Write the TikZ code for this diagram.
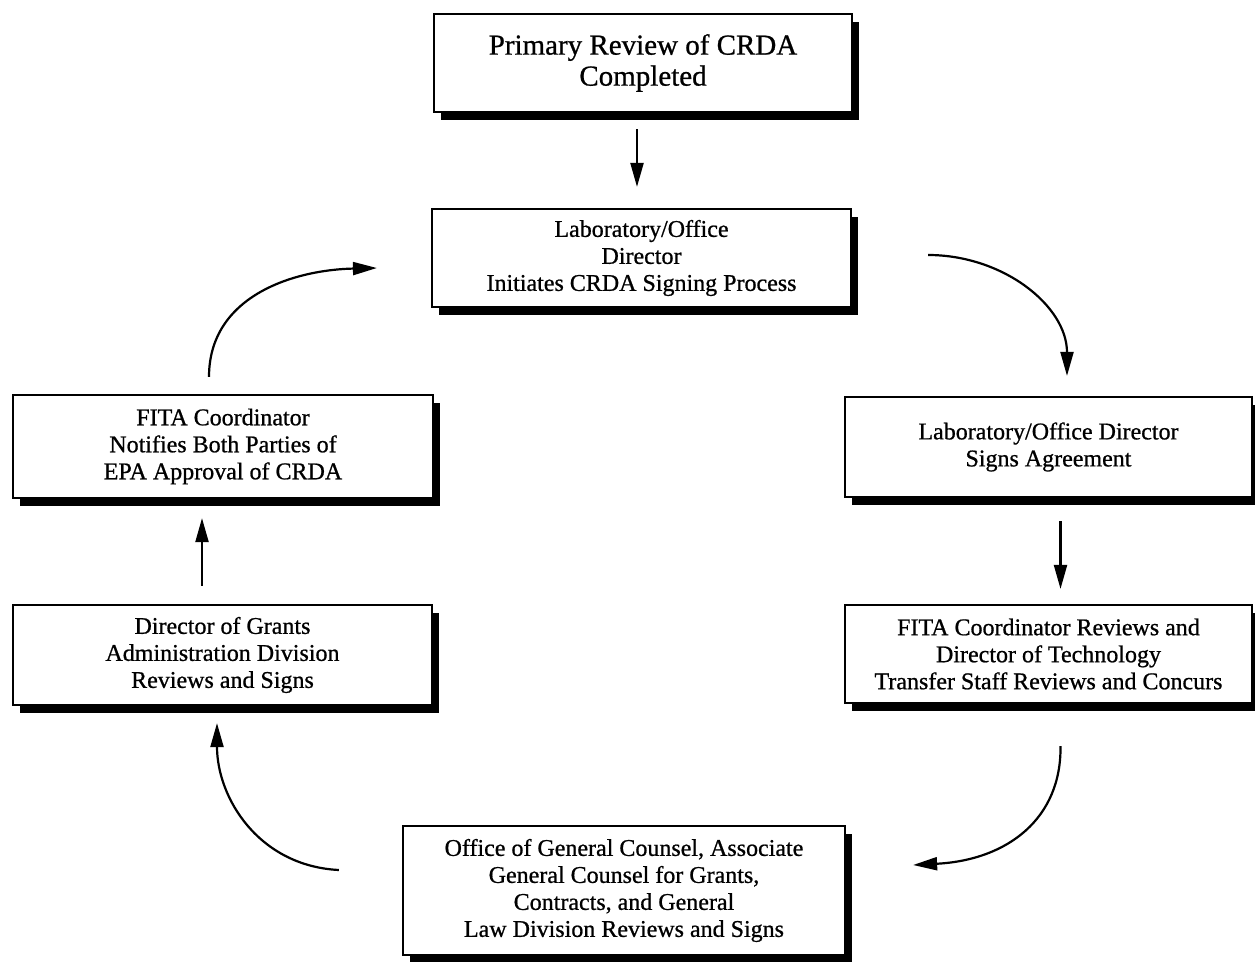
\documentclass[tikz,border=0pt]{standalone}
\usepackage{fontspec}
\setmainfont{Liberation Serif}
\newfontfamily\boxfont{Liberation Serif}[FakeBold=0.8]
\usetikzlibrary{arrows.meta,shadows,calc}

\tikzset{
  stepbox/.style={draw=black, line width=2.2pt, fill=white, rectangle,
    inner sep=0pt, align=center,
    drop shadow={shadow xshift=7pt, shadow yshift=-8pt, fill=black, opacity=1},
    font=\boxfont\fontsize{24}{27}\selectfont},
  bigbox/.style={stepbox, font=\boxfont\fontsize{29}{31}\selectfont},
  flow/.style={line width=2.2pt, -{Triangle[length=24pt,width=13pt]}},
}

\begin{document}
\begin{tikzpicture}[x=1pt,y=-1pt]
  \useasboundingbox (0,0) rectangle (1255,961);

  % process steps
  \node[bigbox, minimum width=418pt, minimum height=98pt] (prim) at (643,63)
    {Primary Review of CRDA\\Completed};
  \node[stepbox, minimum width=419pt, minimum height=98pt] (init) at (641.5,258)
    {Laboratory/Office\\Director\\Initiates CRDA Signing Process};
  \node[stepbox, minimum width=407pt, minimum height=100pt] (signs) at (1048.5,447)
    {Laboratory/Office Director\\Signs Agreement};
  \node[stepbox, minimum width=407pt, minimum height=98pt] (fita) at (1048.5,654)
    {FITA Coordinator Reviews and\\Director of Technology\\Transfer Staff Reviews and Concurs};
  \node[stepbox, minimum width=442pt, minimum height=129pt] (ogc) at (624,890.5)
    {Office of General Counsel, Associate\\General Counsel for Grants,\\Contracts, and General\\Law Division Reviews and Signs};
  \node[stepbox, minimum width=419pt, minimum height=100pt] (grants) at (222.5,655)
    {Director of Grants\\Administration Division\\Reviews and Signs};
  \node[stepbox, minimum width=420pt, minimum height=103pt] (notif) at (223,446.5)
    {FITA Coordinator\\Notifies Both Parties of\\EPA Approval of CRDA};

  % connector end points, placed in the gaps between the steps
  \coordinate (a1) at ($(prim.south)+(-6,16)$);
  \coordinate (b1) at ($(init.north)+(-4.5,-21)$);
  \coordinate (a2) at ($(init.east)+(76,-3)$);
  \coordinate (b2) at ($(signs.north)+(18.5,-20)$);
  \coordinate (a3) at ($(signs.south)+(12,23)$);
  \coordinate (b3) at ($(fita.north)+(12,-15)$);
  \coordinate (a4) at ($(fita.south)+(12,42)$);
  \coordinate (b4) at ($(ogc.east)+(67,-25.5)$);
  \coordinate (a5) at ($(ogc.west)+(-63,-20.5)$);
  \coordinate (b5) at ($(grants.south)+(-5.5,17)$);
  \coordinate (a6) at ($(grants.north)+(-20.5,-18)$);
  \coordinate (b6) at ($(notif.south)+(-21,19)$);
  \coordinate (a7) at ($(notif.north)+(-14,-17)$);
  \coordinate (b7) at ($(init.west)+(-54,10)$);

  % flow of the signing cycle
  \draw[flow] (a1) -- (b1);
  \draw[flow] (a2) .. controls ($(a2)+(75,0)$) and ($(b2)+(0,-70)$) .. (b2);
  \draw[flow] (a3) -- (b3);
  \draw[flow] (a4) .. controls ($(a4)+(1,72)$) and ($(b4)+(95,-5)$) .. (b4);
  \draw[flow] (a5) .. controls ($(a5)+(-80,-4)$) and ($(b5)+(0,75)$) .. (b5);
  \draw[flow] (a6) -- (b6);
  \draw[flow] (a7) .. controls ($(a7)+(0,-80)$) and ($(b7)+(-85,2)$) .. (b7);
\end{tikzpicture}
\end{document}
